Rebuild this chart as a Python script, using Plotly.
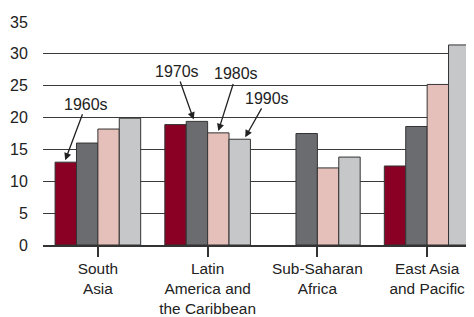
import plotly.graph_objects as go

categories = ["South<br>Asia", "Latin<br>America and<br>the Caribbean", "Sub-Saharan<br>Africa", "East Asia<br>and Pacific"]
decades = ["1960s", "1970s", "1980s", "1990s"]
v1960s = [13.0, 18.9, None, 12.4]
v1970s = [16.0, 19.4, 17.5, 18.6]
v1980s = [18.2, 17.6, 12.1, 25.2]
v1990s = [19.9, 16.6, 13.8, 31.4]
series = [v1960s, v1970s, v1980s, v1990s]
colors = ["#8a0025", "#6b6c70", "#e5bfb9", "#c6c7c9"]
yticks = [0, 5, 10, 15, 20, 25, 30, 35]

# annotation: (label, category index, decade index, pixel offset of text)
callouts = [
    ("1960s", 0, 0, 21, -56),
    ("1970s", 1, 1, -17, -48),
    ("1980s", 1, 2, 18, -57),
    ("1990s", 1, 3, 22, -39),
]

FONT = 16

fig = go.Figure()
for name, vals, col in zip(decades, series, colors):
    fig.add_trace(go.Bar(
        x=list(range(len(categories))), y=vals, name=name,
        marker=dict(color=col, line=dict(color="#333333", width=1)),
    ))

bargap = 0.22
bw = (1 - bargap) / 4
tip_shift = [-0.005, -0.03, 0.0, 0.05]
for lab, ci, di, ax, ay in callouts:
    xc = ci - (1 - bargap) / 2 + bw * (di + 0.5) + tip_shift[di]
    yv = series[di][ci]
    fig.add_annotation(
        x=xc, y=yv + 0.3, xref="x", yref="y", text=lab,
        showarrow=True, ax=ax, ay=ay, arrowhead=2, arrowsize=1.1,
        arrowwidth=1.3, arrowcolor="#222222",
        font=dict(size=FONT, color="#222222"),
    )

# the page body adds an 8px offset; margins compensate for it
fig.update_layout(
    width=474, height=317,
    margin=dict(l=35, r=0, t=14, b=80),
    barmode="group", bargap=bargap, bargroupgap=0,
    showlegend=False,
    plot_bgcolor="white", paper_bgcolor="white",
    font=dict(family="Liberation Sans, Arial, sans-serif", size=FONT, color="#222222"),
)
fig.update_xaxes(
    range=[-0.5, 3.5], tickmode="array",
    tickvals=list(range(len(categories))), ticktext=categories,
    tickfont=dict(size=15.4),
    showline=True, linecolor="#333333", linewidth=1.5,
    showgrid=False, zeroline=False, automargin=False,
    tickson="boundaries", ticks="outside", ticklen=10, tickwidth=1.5, tickcolor="#333333",
    ticklabelstandoff=-1,
)
fig.update_yaxes(
    range=[0, 35], tickvals=yticks, showgrid=True, gridcolor="#3a3a3a", gridwidth=1,
    zeroline=False, showline=False, ticks="outside", ticklen=11, tickcolor="rgba(0,0,0,0)",
    automargin=False,
)
fig.write_html("out.html")
